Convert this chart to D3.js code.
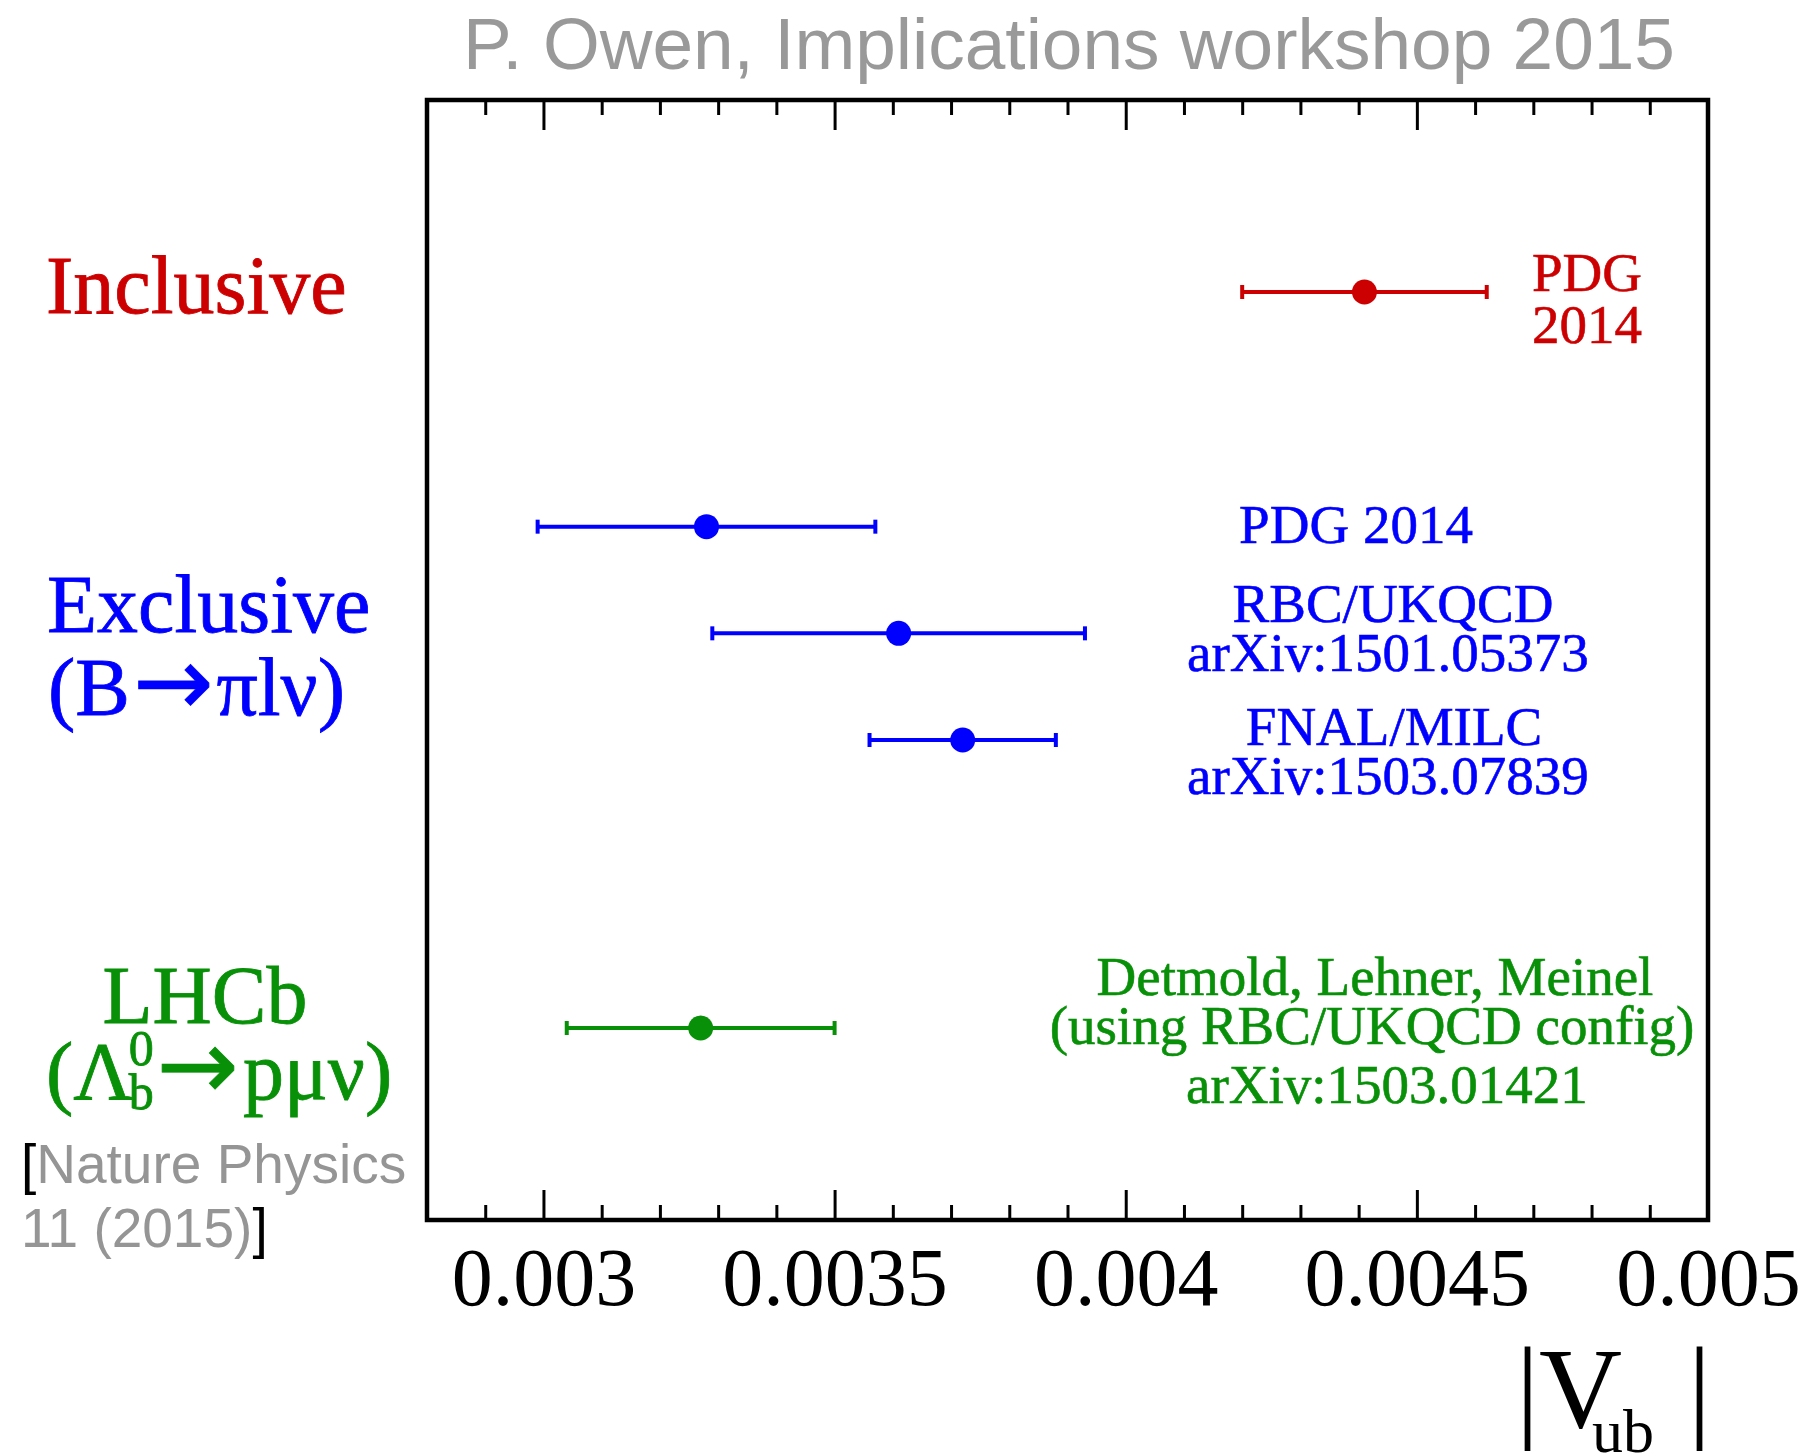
<!DOCTYPE html>
<html><head><meta charset="utf-8">
<script src="https://cdn.jsdelivr.net/npm/d3@7"></script>
<style>body{margin:0;background:#fff}svg{display:block}</style>
</head><body>
<svg id="chart" width="1809" height="1456"></svg>
<script>
// ---------------- data ----------------
const measurementNames = ["PDG 2014 inclusive", "PDG 2014 exclusive", "RBC/UKQCD", "FNAL/MILC", "Detmold, Lehner, Meinel"];
const vubCentral = [0.00441, 0.00328, 0.00361, 0.00372, 0.00327];
const vubLow     = [0.00420, 0.00299, 0.00329, 0.00356, 0.00304];
const vubHigh    = [0.00462, 0.00357, 0.00393, 0.00388, 0.00350];
const rowPosition = [1.8, 4.0, 5.0, 6.0, 8.7];
const rowGroup = ["inclusive", "exclusive", "exclusive", "exclusive", "lhcb"];
const xMajorTicks = [0.003, 0.0035, 0.004, 0.0045, 0.005];
const xTickLabels = ["0.003", "0.0035", "0.004", "0.0045", "0.005"];
const xMinorTicks = [0.0029, 0.0031, 0.0032, 0.0033, 0.0034, 0.0036, 0.0037, 0.0038, 0.0039,
                     0.0041, 0.0042, 0.0043, 0.0044, 0.0046, 0.0047, 0.0048, 0.0049];
const xDomain = [0.0028, 0.005];
const yDomain = [0, 10.5];
const titleText = "P. Owen, Implications workshop 2015";

// ---------------- layout ----------------
const W = 1809, H = 1456;
const frame = {left: 427, right: 1708, top: 100, bottom: 1220};
const colors = {inclusive: "#cc0000", exclusive: "#0000ff", lhcb: "#089008"};
const serif = "'Liberation Serif','Times New Roman',Times,serif";
const sans = "'Liberation Sans',Arial,Helvetica,sans-serif";
const arrowFont = "'DejaVu Sans',sans-serif";
const grey = "#959595";

const svg = d3.select("#chart");
svg.append("rect").attr("width", W).attr("height", H).attr("fill", "#fff");

const x = d3.scaleLinear().domain(xDomain).range([frame.left, frame.right]);
const y = d3.scaleLinear().domain(yDomain).range([frame.top, frame.bottom]);

// title
svg.append("text").attr("x", 1069).attr("y", 69).attr("text-anchor", "middle")
  .attr("font-family", sans).attr("font-size", 73).attr("fill", "#999")
  .text(titleText);

// axes (ticks pointing inward)
function styleAxis(g) {
  g.select(".domain").remove();
  g.selectAll(".tick line").attr("stroke", "#000").attr("stroke-width", 3);
}
const gBotMaj = svg.append("g").attr("transform", `translate(0,${frame.bottom})`)
  .call(d3.axisBottom(x).tickValues(xMajorTicks).tickSize(-30).tickPadding(0)
    .tickFormat((d, i) => xTickLabels[i]));
styleAxis(gBotMaj);
gBotMaj.selectAll(".tick text").attr("y", 85).attr("dy", 0)
  .attr("font-family", serif).attr("font-size", 82).attr("fill", "#000");
const gBotMin = svg.append("g").attr("transform", `translate(0,${frame.bottom})`)
  .call(d3.axisBottom(x).tickValues(xMinorTicks).tickSize(-15).tickFormat(""));
styleAxis(gBotMin);
const gTopMaj = svg.append("g").attr("transform", `translate(0,${frame.top})`)
  .call(d3.axisTop(x).tickValues(xMajorTicks.filter(v => v < xDomain[1])).tickSize(-30).tickFormat(""));
styleAxis(gTopMaj);
const gTopMin = svg.append("g").attr("transform", `translate(0,${frame.top})`)
  .call(d3.axisTop(x).tickValues(xMinorTicks).tickSize(-15).tickFormat(""));
styleAxis(gTopMin);

// frame
svg.append("rect").attr("x", frame.left).attr("y", frame.top)
  .attr("width", frame.right - frame.left).attr("height", frame.bottom - frame.top)
  .attr("fill", "none").attr("stroke", "#000").attr("stroke-width", 4.5);

// data points with error bars
const rows = measurementNames.map((n, i) => ({name: n, c: vubCentral[i], lo: vubLow[i], hi: vubHigh[i], pos: rowPosition[i], grp: rowGroup[i]}));
const pts = svg.append("g").selectAll("g").data(rows).join("g")
  .attr("fill", d => colors[d.grp]).attr("stroke", d => colors[d.grp]);
pts.append("line").attr("x1", d => x(d.lo)).attr("x2", d => x(d.hi))
  .attr("y1", d => y(d.pos)).attr("y2", d => y(d.pos)).attr("stroke-width", 4);
pts.append("line").attr("x1", d => x(d.lo)).attr("x2", d => x(d.lo))
  .attr("y1", d => y(d.pos) - 7).attr("y2", d => y(d.pos) + 7).attr("stroke-width", 4);
pts.append("line").attr("x1", d => x(d.hi)).attr("x2", d => x(d.hi))
  .attr("y1", d => y(d.pos) - 7).attr("y2", d => y(d.pos) + 7).attr("stroke-width", 4);
pts.append("circle").attr("cx", d => x(d.c)).attr("cy", d => y(d.pos)).attr("r", 12.5).attr("stroke", "none");

// right-hand annotations
const notes = [
  {t: "PDG", x: 1587, y: 291, c: "inclusive"},
  {t: "2014", x: 1587, y: 343, c: "inclusive"},
  {t: "PDG 2014", x: 1356, y: 543, c: "exclusive"},
  {t: "RBC/UKQCD", x: 1393, y: 622, c: "exclusive"},
  {t: "arXiv:1501.05373", x: 1388, y: 671, c: "exclusive"},
  {t: "FNAL/MILC", x: 1394, y: 745, c: "exclusive"},
  {t: "arXiv:1503.07839", x: 1388, y: 794, c: "exclusive"},
  {t: "Detmold, Lehner, Meinel", x: 1375, y: 995, c: "lhcb"},
  {t: "(using RBC/UKQCD config)", x: 1372, y: 1044, c: "lhcb"},
  {t: "arXiv:1503.01421", x: 1387, y: 1103, c: "lhcb"}
];
svg.append("g").selectAll("text").data(notes).join("text")
  .attr("x", d => d.x).attr("y", d => d.y).attr("text-anchor", "middle")
  .attr("font-family", serif).attr("font-size", 55).attr("fill", d => colors[d.c])
  .attr("stroke", d => colors[d.c]).attr("stroke-width", 0.6)
  .text(d => d.t);

// left group labels
const L = svg.append("g").attr("font-family", serif).attr("font-size", 82)
  .attr("stroke-width", 0.8);
L.append("text").attr("x", 46).attr("y", 313).attr("fill", colors.inclusive).attr("stroke", colors.inclusive).text("Inclusive");
L.append("text").attr("x", 47).attr("y", 632).attr("fill", colors.exclusive).attr("stroke", colors.exclusive).text("Exclusive");
const bl = L.append("text").attr("x", 48).attr("y", 715).attr("fill", colors.exclusive).attr("stroke", colors.exclusive);
bl.append("tspan").text("(B");
bl.append("tspan").attr("font-family", arrowFont).attr("font-size", 96).attr("dx", 3).text("\u2192");
bl.append("tspan").attr("dx", 3).text("\u03c0l\u03bd)");
L.append("text").attr("x", 205).attr("y", 1023).attr("text-anchor", "middle").attr("fill", colors.lhcb).attr("stroke", colors.lhcb).text("LHCb");
const lam = L.append("text").attr("x", 46).attr("y", 1099).attr("fill", colors.lhcb).attr("stroke", colors.lhcb);
lam.append("tspan").text("(\u039b");
lam.append("tspan").attr("font-size", 50).attr("dx", -4).attr("dy", -34).text("0");
lam.append("tspan").attr("font-size", 50).attr("dx", -25).attr("dy", 44).text("b");
lam.append("tspan").attr("font-family", arrowFont).attr("font-size", 98).attr("dx", 3).attr("dy", -10).text("\u2192");
lam.append("tspan").attr("dx", 4).text("p\u03bc\u03bd)");

// reference
const ref = svg.append("g").attr("font-family", sans).attr("font-size", 55);
const r1 = ref.append("text").attr("x", 21).attr("y", 1183);
r1.append("tspan").attr("fill", "#000").text("[");
r1.append("tspan").attr("fill", grey).text("Nature Physics");
const r2 = ref.append("text").attr("x", 21).attr("y", 1247);
r2.append("tspan").attr("fill", grey).text("11 (2015)");
r2.append("tspan").attr("fill", "#000").text("]");

// axis title |V_ub|
const at = svg.append("text").attr("font-family", serif).attr("fill", "#000");
at.append("tspan").attr("x", 1516).attr("y", 1427).attr("font-size", 115).text("|V");
at.append("tspan").attr("x", 1592).attr("y", 1452).attr("font-size", 62).text("ub");
at.append("tspan").attr("x", 1688).attr("y", 1427).attr("font-size", 115).text("|");
</script>
</body></html>
